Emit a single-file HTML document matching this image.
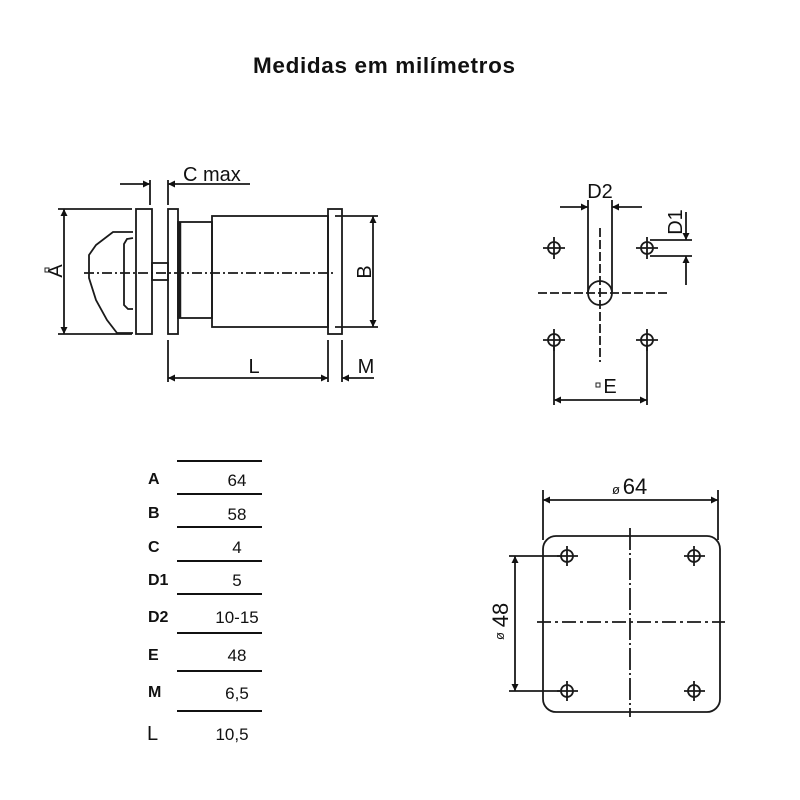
<!DOCTYPE html>
<html><head><meta charset="utf-8"><style>
html,body{margin:0;padding:0;background:#fff;}
svg{display:block;}
text{font-family:"Liberation Sans",sans-serif;fill:#111;}
</style></head><body>
<svg width="800" height="800" viewBox="0 0 800 800" xmlns="http://www.w3.org/2000/svg">
<defs>
<marker id="ar" viewBox="0 0 10 10" refX="10" refY="5" markerWidth="11" markerHeight="7" orient="auto-start-reverse" markerUnits="userSpaceOnUse"><path d="M0,0 L10,5 L0,10 z" fill="#111"/></marker>
</defs>
<text x="384" y="73" font-size="22.5" font-weight="bold" text-anchor="middle" textLength="262">Medidas em milímetros</text>

<g stroke="#1a1a1a" stroke-width="1.8" fill="none">
<rect x="136" y="209" width="16" height="125" fill="#fff"/>
<rect x="168" y="209" width="10" height="125" fill="#fff"/>
<rect x="178" y="222" width="34" height="96"/>
<line x1="179.5" y1="222" x2="179.5" y2="318" stroke-width="3.5"/>
<rect x="212" y="216" width="116" height="111"/>
<rect x="328" y="209" width="14" height="125"/>
<rect x="152" y="263" width="16" height="17"/>
<path d="M133,232 L113,232 L96,245 L89,255 L89,278 L96,300 L107,320 L117,333 L133,333"/>
<path d="M133,238 L127,239 L124,244 L124,305 L128,309 L133,309"/>
<line x1="84" y1="273" x2="336" y2="273" stroke-dasharray="10,3,2,3"/>
<line x1="150" y1="180" x2="150" y2="205"/>
<line x1="168" y1="180" x2="168" y2="205"/>
<line x1="120" y1="184" x2="150" y2="184" marker-end="url(#ar)"/>
<line x1="250" y1="184" x2="168" y2="184" marker-end="url(#ar)"/>
<line x1="58" y1="209" x2="132" y2="209"/>
<line x1="58" y1="334" x2="132" y2="334"/>
<line x1="64" y1="209" x2="64" y2="334" marker-start="url(#ar)" marker-end="url(#ar)"/>
<line x1="335" y1="216" x2="378" y2="216"/>
<line x1="335" y1="327" x2="378" y2="327"/>
<line x1="373" y1="216" x2="373" y2="327" marker-start="url(#ar)" marker-end="url(#ar)"/>
<line x1="168" y1="340" x2="168" y2="382"/>
<line x1="328" y1="340" x2="328" y2="382"/>
<line x1="342" y1="340" x2="342" y2="382"/>
<line x1="168" y1="378" x2="328" y2="378" marker-start="url(#ar)" marker-end="url(#ar)"/>
<line x1="374" y1="378" x2="342" y2="378" marker-end="url(#ar)"/>

<line x1="588" y1="200" x2="588" y2="292"/>
<line x1="612" y1="200" x2="612" y2="292"/>
<line x1="560" y1="207" x2="588" y2="207" marker-end="url(#ar)"/>
<line x1="642" y1="207" x2="612" y2="207" marker-end="url(#ar)"/>
<circle cx="600" cy="293" r="12" fill="#fff"/>
<line x1="600" y1="228" x2="600" y2="362" stroke-dasharray="9,3"/>
<line x1="538" y1="293" x2="668" y2="293" stroke-dasharray="9,3"/>
<g id="h1"><circle cx="554" cy="248" r="6"/><line x1="543" y1="248" x2="565" y2="248"/><line x1="554" y1="237" x2="554" y2="259"/></g>
<use href="#h1" x="93"/><use href="#h1" y="92"/><use href="#h1" x="93" y="92"/>
<line x1="650" y1="240" x2="692" y2="240"/>
<line x1="650" y1="256" x2="692" y2="256"/>
<line x1="686" y1="212" x2="686" y2="240" marker-end="url(#ar)"/>
<line x1="686" y1="285" x2="686" y2="256" marker-end="url(#ar)"/>
<line x1="554" y1="346" x2="554" y2="405"/>
<line x1="647" y1="346" x2="647" y2="405"/>
<line x1="554" y1="400" x2="647" y2="400" marker-start="url(#ar)" marker-end="url(#ar)"/>

<rect x="543" y="536" width="177" height="176" rx="13"/>
<line x1="543" y1="490" x2="543" y2="540"/>
<line x1="718" y1="490" x2="718" y2="540"/>
<line x1="543" y1="500" x2="718" y2="500" marker-start="url(#ar)" marker-end="url(#ar)"/>
<line x1="630" y1="528" x2="630" y2="717" stroke-dasharray="22,3,2,3"/>
<line x1="537" y1="622" x2="725" y2="622" stroke-dasharray="14,4,3,4"/>
<g id="h2"><circle cx="567" cy="556" r="6"/><line x1="557" y1="556" x2="578" y2="556"/><line x1="567" y1="546" x2="567" y2="566"/></g>
<use href="#h2" x="127"/><use href="#h2" y="135"/><use href="#h2" x="127" y="135"/>
<line x1="509" y1="556" x2="560" y2="556"/>
<line x1="509" y1="691" x2="560" y2="691"/>
<line x1="515" y1="556" x2="515" y2="691" marker-start="url(#ar)" marker-end="url(#ar)"/>

<g stroke="#111" stroke-width="2">
<line x1="177" y1="461" x2="262" y2="461"/>
<line x1="177" y1="494" x2="262" y2="494"/>
<line x1="177" y1="527" x2="262" y2="527"/>
<line x1="177" y1="561" x2="262" y2="561"/>
<line x1="177" y1="594" x2="262" y2="594"/>
<line x1="177" y1="633" x2="262" y2="633"/>
<line x1="177" y1="671" x2="262" y2="671"/>
<line x1="177" y1="711" x2="262" y2="711"/>
</g>
</g>

<text x="183" y="181" font-size="20">C max</text>
<text x="0" y="0" font-size="20" transform="translate(62,271) rotate(-90)" text-anchor="middle">A</text>
<rect x="45" y="268" width="4" height="4" fill="none" stroke="#222" stroke-width="1"/>
<text x="0" y="0" font-size="20" transform="translate(371,272) rotate(-90)" text-anchor="middle">B</text>
<text x="254" y="373" font-size="20" text-anchor="middle">L</text>
<text x="366" y="373" font-size="20" text-anchor="middle">M</text>
<text x="600" y="198" font-size="20" text-anchor="middle">D2</text>
<text x="0" y="0" font-size="20" transform="translate(682,222) rotate(-90)" text-anchor="middle">D1</text>
<rect x="596" y="383" width="4" height="4" fill="none" stroke="#222" stroke-width="1"/>
<text x="610" y="393" font-size="20" text-anchor="middle">E</text>
<text x="616" y="494" font-size="13" text-anchor="middle">ø</text>
<text x="635" y="494" font-size="22" text-anchor="middle">64</text>
<text x="0" y="0" font-size="22" transform="translate(508,615) rotate(-90)" text-anchor="middle">48</text>
<text x="0" y="0" font-size="13" transform="translate(504,636) rotate(-90)" text-anchor="middle">ø</text>

<g font-size="16" font-weight="bold">
<text x="148" y="484">A</text><text x="148" y="518">B</text><text x="148" y="552">C</text>
<text x="148" y="585">D1</text><text x="148" y="622">D2</text><text x="148" y="660">E</text><text x="148" y="697">M</text>
</g>
<text x="147" y="740" font-size="20">L</text>
<g font-size="17" text-anchor="middle">
<text x="237" y="486">64</text><text x="237" y="520">58</text><text x="237" y="553">4</text>
<text x="237" y="586">5</text><text x="237" y="623">10-15</text><text x="237" y="661">48</text>
<text x="237" y="699">6,5</text><text x="232" y="740">10,5</text>
</g>
</svg>
</body></html>
